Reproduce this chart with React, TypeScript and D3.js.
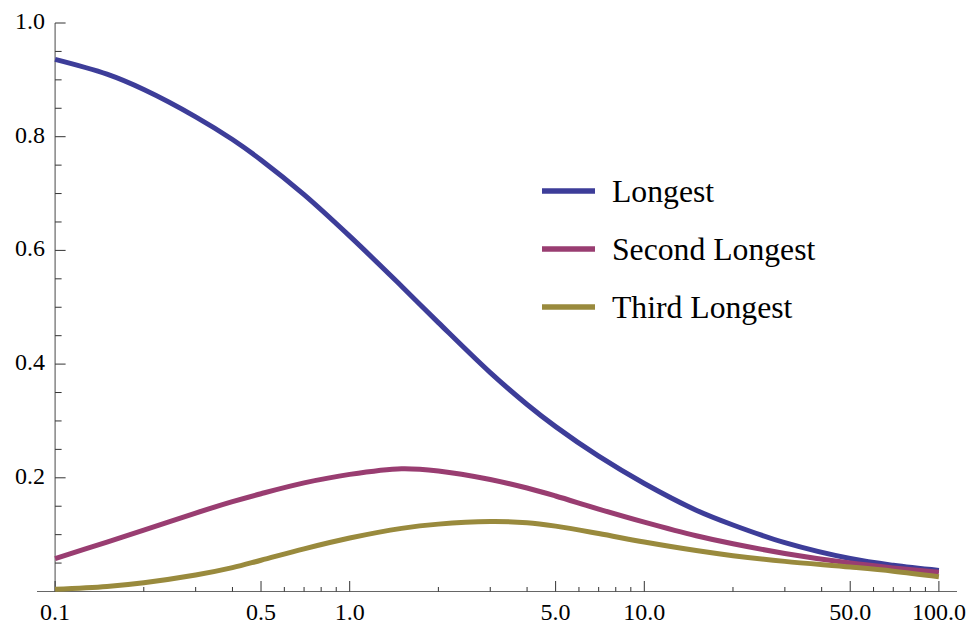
import React, { useEffect, useRef } from "react";
import * as d3 from "d3";

const xs = [0.1, 0.15, 0.2, 0.3, 0.4, 0.5, 0.7, 1, 1.5, 2, 3, 4, 5, 7, 10, 15, 20, 30, 50, 70, 100];
const longest = [0.936, 0.910, 0.883, 0.835, 0.795, 0.759, 0.698, 0.625, 0.537, 0.473, 0.385, 0.329, 0.290, 0.238, 0.190, 0.143, 0.117, 0.086, 0.058, 0.046, 0.037];
const secondLongest = [0.058, 0.087, 0.108, 0.138, 0.158, 0.172, 0.191, 0.206, 0.216, 0.212, 0.197, 0.182, 0.168, 0.145, 0.122, 0.098, 0.084, 0.067, 0.050, 0.0415, 0.034];
const thirdLongest = [0.004, 0.009, 0.0155, 0.029, 0.042, 0.055, 0.075, 0.094, 0.111, 0.1185, 0.123, 0.121, 0.115, 0.102, 0.087, 0.072, 0.063, 0.053, 0.043, 0.0357, 0.026];

const seriesNames = ["Longest", "Second Longest", "Third Longest"];
const colors = ["#3d3d99", "#993d71", "#998a3d"];

const xMajor = [0.1, 0.5, 1, 5, 10, 50, 100];
const xMinor = [0.2, 0.3, 0.4, 0.6, 0.7, 0.8, 0.9, 2, 3, 4, 6, 7, 8, 9, 20, 30, 40, 60, 70, 80, 90];
const yMajor = [0.2, 0.4, 0.6, 0.8, 1.0];
const yMinor = [0.05, 0.1, 0.15, 0.25, 0.3, 0.35, 0.45, 0.5, 0.55, 0.65, 0.7, 0.75, 0.85, 0.9, 0.95];

export default function App() {
  const ref = useRef<SVGSVGElement>(null);

  useEffect(() => {
    const svg = d3.select(ref.current);
    svg.selectAll("*").remove();

    const x = d3.scaleLog().domain([0.1, 100]).range([55.1, 938.9]);
    const y = d3.scaleLinear().domain([0, 1]).range([591.5, 23]);
    const font = "Liberation Serif";
    const axisColor = "#666";

    // axes
    svg.append("line")
      .attr("x1", 37).attr("x2", 957)
      .attr("y1", y(0)).attr("y2", y(0))
      .attr("stroke", axisColor).attr("stroke-width", 1.2);
    svg.append("line")
      .attr("x1", x(0.1)).attr("x2", x(0.1))
      .attr("y1", y(1)).attr("y2", y(0))
      .attr("stroke", axisColor).attr("stroke-width", 1.2);

    // x ticks
    svg.append("g").selectAll("line").data(xMajor).join("line")
      .attr("x1", d => x(d)).attr("x2", d => x(d))
      .attr("y1", y(0)).attr("y2", y(0) - 10.5)
      .attr("stroke", "#333").attr("stroke-width", 1);
    svg.append("g").selectAll("line").data(xMinor).join("line")
      .attr("x1", d => x(d)).attr("x2", d => x(d))
      .attr("y1", y(0)).attr("y2", y(0) - 4.5)
      .attr("stroke", "#333").attr("stroke-width", 1);
    svg.append("g").selectAll("text").data(xMajor).join("text")
      .attr("x", d => x(d)).attr("y", 620)
      .attr("text-anchor", "middle")
      .style("font-family", font).style("font-size", "24px")
      .text(d => d.toFixed(1));

    // y ticks
    svg.append("g").selectAll("line").data(yMajor).join("line")
      .attr("x1", x(0.1)).attr("x2", x(0.1) + 10.5)
      .attr("y1", d => y(d)).attr("y2", d => y(d))
      .attr("stroke", "#333").attr("stroke-width", 1);
    svg.append("g").selectAll("line").data(yMinor).join("line")
      .attr("x1", x(0.1)).attr("x2", x(0.1) + 6.5)
      .attr("y1", d => y(d)).attr("y2", d => y(d))
      .attr("stroke", "#333").attr("stroke-width", 1);
    svg.append("g").selectAll("text").data(yMajor).join("text")
      .attr("x", 45).attr("y", d => y(d) + 6)
      .attr("text-anchor", "end")
      .style("font-family", font).style("font-size", "24px")
      .text(d => d.toFixed(1));

    // curves
    const all = [longest, secondLongest, thirdLongest];
    const line = d3.line<number>()
      .x((_, i) => x(xs[i]))
      .y(d => y(d))
      .curve(d3.curveCatmullRom.alpha(0.5));
    all.forEach((vals, k) => {
      svg.append("path")
        .datum(vals)
        .attr("d", line)
        .attr("fill", "none")
        .attr("stroke", colors[k])
        .attr("stroke-width", 5)
        .attr("stroke-linejoin", "round");
    });

    // legend
    const lg = svg.append("g");
    seriesNames.forEach((name, k) => {
      const cy = 191 + k * 58;
      lg.append("line")
        .attr("x1", 542).attr("x2", 595)
        .attr("y1", cy).attr("y2", cy)
        .attr("stroke", colors[k]).attr("stroke-width", 5.5);
      lg.append("text")
        .attr("x", 612).attr("y", cy + 11)
        .style("font-family", font).style("font-size", "31.7px")
        .attr("fill", "#000")
        .text(name);
    });
  }, []);

  return (
    <svg
      ref={ref}
      width={975}
      height={629}
      style={{ position: "absolute", left: 0, top: 0, background: "#fff" }}
    />
  );
}
